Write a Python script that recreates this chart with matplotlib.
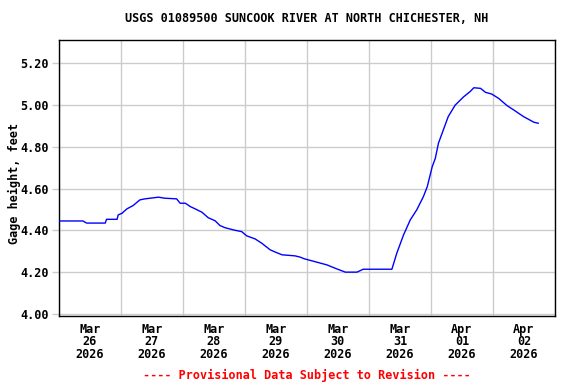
import matplotlib
matplotlib.use("Agg")
import matplotlib.pyplot as plt
import matplotlib.dates as mdates
import numpy as np
import pandas as pd

title = "USGS 01089500 SUNCOOK RIVER AT NORTH CHICHESTER, NH"
ylabel = "Gage height, feet"
footer = "---- Provisional Data Subject to Revision ----"

start = pd.Timestamp("2026-03-26 00:00")
hours = [0, 9.4, 10.8, 18, 18.5, 22.6, 23, 24.5, 26.4, 28.8, 31.4, 33.4, 38.6, 41,
         45.6, 47, 49, 50.9, 52.8, 55.4, 57.8, 60.5, 62.4, 64.3, 67.7, 70.8, 72.7,
         76, 78.5, 81.8, 83.8, 86.4, 91.4, 93.4, 95, 98, 103.7, 107.5, 110.9, 115.4,
         117.8, 124.3, 128.9, 130.8, 133.4, 136, 138.5, 141.1, 142.6, 144.5, 145.7,
         146.9, 148.8, 150.7, 153.4, 156.7, 159.1, 160.6, 163.2, 165.1, 167.5, 170.2,
         173.5, 176.6, 179.8, 183.8, 185.5]
gage = [4.445, 4.445, 4.435, 4.435, 4.453, 4.453, 4.474, 4.482, 4.503, 4.519, 4.546,
        4.551, 4.559, 4.554, 4.551, 4.530, 4.53, 4.514, 4.503, 4.487, 4.461, 4.446,
        4.423, 4.413, 4.402, 4.394, 4.374, 4.359, 4.339, 4.307, 4.296, 4.283, 4.278,
        4.272, 4.264, 4.254, 4.235, 4.216, 4.200, 4.20, 4.214, 4.214, 4.214, 4.291,
        4.378, 4.450, 4.498, 4.562, 4.610, 4.705, 4.745, 4.817, 4.881, 4.945, 5.00,
        5.040, 5.064, 5.083, 5.080, 5.061, 5.053, 5.032, 4.997, 4.972, 4.945, 4.918,
        4.913]
day_labels = ["Mar\n26\n2026", "Mar\n27\n2026", "Mar\n28\n2026", "Mar\n29\n2026",
              "Mar\n30\n2026", "Mar\n31\n2026", "Apr\n01\n2026", "Apr\n02\n2026"]
y_ticks = [4.00, 4.20, 4.40, 4.60, 4.80, 5.00, 5.20]

times = [start + pd.Timedelta(hours=h) for h in hours]
days = pd.date_range(start, periods=9, freq="D")
noons = [d + pd.Timedelta(hours=12) for d in days[:-1]]

font = {"family": "DejaVu Sans Mono", "weight": "bold", "size": 8.5}

fig = plt.figure(figsize=(5.76, 3.84), dpi=100)
ax = fig.add_axes([58.7/576, 1-316/384, (555-58.7)/576, (316-39.5)/384])

ax.plot(times, gage, color="#0000ff", linewidth=1.0, zorder=3)

ax.set_xlim(days[0], days[-1])
ax.set_ylim(3.99, 5.314)

ax.set_xticks(days)
ax.set_xticklabels([""] * len(days))
ax.set_xticks(noons, minor=True)
ax.set_xticklabels(day_labels, minor=True, **font)
ax.tick_params(axis="x", which="both", length=0, pad=5)
for lab in ax.get_xticklabels(minor=True):
    lab.set_linespacing(0.95)

ax.set_yticks(y_ticks)
ax.set_yticklabels([f"{v:.2f}" for v in y_ticks], **font)
ax.tick_params(axis="y", length=5, width=1, color="#cccccc", pad=2)

ax.grid(True, which="major", color="#cccccc", linewidth=1.0, zorder=0)
for s in ax.spines.values():
    s.set_color("black")
    s.set_linewidth(1.0)

ax.set_ylabel(ylabel, **font)
ax.yaxis.set_label_coords(-0.075, 0.48)
fig.text(0.5325, 1-19/384, title, ha="center", va="center", **font)
fig.text(0.5325, 1-375/384, footer, ha="center", va="center", color="red", **font)

fig.savefig("out.png", dpi=100)
